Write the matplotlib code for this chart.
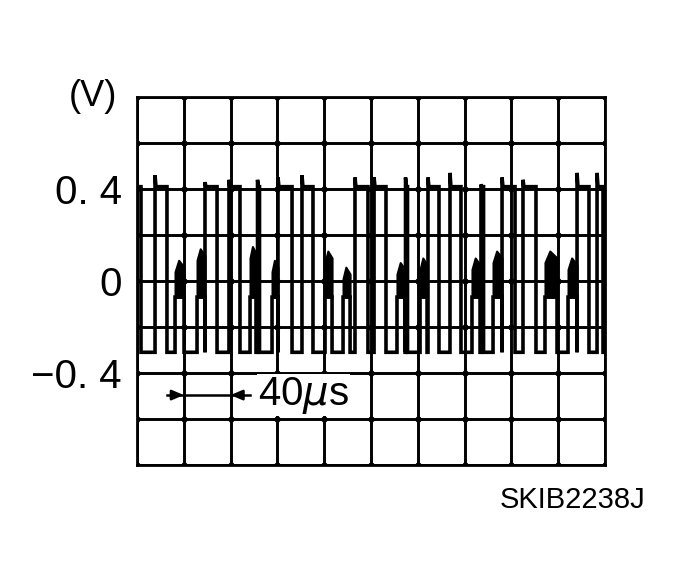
import numpy as np
import matplotlib
matplotlib.use("Agg")
import matplotlib.pyplot as plt

# levels (V) and time scale (1 div = 40 us)
HIGH = 0.41
LOW = -0.31
BLOB_BOTTOM = -0.07
US_PER_DIV = 40

# high pulses: start, end (us) and overshoot peak (V) at rising edge
high_start = [0.0, 15.4, 58.1, 78.6, 103.0, 120.5, 141.0, 186.3, 202.6, 229.5,
              248.7, 267.5, 294.0, 312.0, 329.9, 376.1, 393.2]
high_end = [3.4, 25.6, 68.4, 88.0, 104.7, 132.5, 150.4, 197.4, 212.8, 231.2,
            258.1, 276.9, 296.2, 323.1, 341.0, 386.3, 398.3]
high_peak = [0.42, 0.46, 0.43, 0.44, 0.44, 0.45, 0.46, 0.45, 0.45, 0.45,
             0.45, 0.47, 0.42, 0.45, 0.44, 0.47, 0.47]

# noisy mid-level bursts: start, end (us) and top (V)
blob_start = [32.5, 51.3, 96.6, 115.4, 160.7, 176.1, 222.2, 241.9, 286.3, 304.3, 348.7, 368.4]
blob_end = [40.2, 58.1, 101.7, 120.5, 166.7, 182.1, 229.1, 247.9, 293.2, 312.0, 359.0, 376.1]
blob_top = [0.09, 0.14, 0.15, 0.09, 0.13, 0.06, 0.08, 0.10, 0.10, 0.13, 0.13, 0.10]

y_ticks = [0.4, 0.0, -0.4]
y_labels = ["0. 4", "0", "\u22120. 4"]

plt.rcParams["font.family"] = ["Liberation Sans", "DejaVu Sans"]

fig = plt.figure(figsize=(6.81, 5.86), dpi=100)
ax = fig.add_axes([0.2012, 0.2065, 0.6872, 0.628])
ax.set_xlim(0, 10 * US_PER_DIV)
ax.set_ylim(-0.8, 0.8)

# oscilloscope grid
for k in range(11):
    ax.axvline(k * US_PER_DIV, color="black", lw=2.1, zorder=1)
for k in range(9):
    ax.axhline(-0.8 + 0.2 * k, color="black", lw=2.1, zorder=1)
gx, gy = np.meshgrid(np.arange(11) * US_PER_DIV, -0.8 + 0.2 * np.arange(9))
ax.plot(gx.ravel(), gy.ravel(), "o", color="black", ms=3.5, zorder=1)
for s in ax.spines.values():
    s.set_linewidth(2.0)

# build the trace: low everywhere, with high pulses and bursts
events = [(s, e, "H", p) for s, e, p in zip(high_start, high_end, high_peak)]
events += [(s, e, "B", t) for s, e, t in zip(blob_start, blob_end, blob_top)]
events.sort()
tx, ty = [], []
for s, e, kind, v in events:
    if kind == "H":
        tx += [s, s, s + 0.8, e, e]
        ty += [LOW, v, HIGH, HIGH, LOW]
    else:
        tx += [s, s, e, e]
        ty += [LOW, BLOB_BOTTOM, BLOB_BOTTOM, LOW]
        ax.fill_between([s, s + 0.4 * (e - s), e], BLOB_BOTTOM, [v - 0.05, v, v - 0.03],
                        color="black", lw=1.5, zorder=3)
tx.append(10 * US_PER_DIV)
ty.append(LOW)
if tx[0] > 0:
    tx.insert(0, 0)
    ty.insert(0, LOW)
ax.plot(tx, ty, color="black", lw=2.6, zorder=3, solid_joinstyle="miter")

# axis labels
ax.set_xticks([])
ax.set_yticks(y_ticks)
ax.set_yticklabels(y_labels, fontsize=29)
ax.tick_params(axis="y", length=0, pad=11)
ax.text(-0.043, 0.8, "(V)", transform=ax.get_yaxis_transform(), ha="right",
        va="center", fontsize=26)

# 40 us scale marker
ya = -0.496
ax.plot([0.64 * US_PER_DIV, 2.41 * US_PER_DIV], [ya, ya], color="black", lw=1.8, zorder=4)
ax.annotate("", xy=(1.0 * US_PER_DIV, ya), xytext=(0.75 * US_PER_DIV, ya),
            arrowprops=dict(arrowstyle="-|>,head_length=0.7,head_width=0.3",
                            color="black", lw=1.8, shrinkA=0, shrinkB=0))
ax.annotate("", xy=(2.0 * US_PER_DIV, ya), xytext=(2.25 * US_PER_DIV, ya),
            arrowprops=dict(arrowstyle="-|>,head_length=0.7,head_width=0.3",
                            color="black", lw=1.8, shrinkA=0, shrinkB=0))
ax.text(2.59 * US_PER_DIV, ya, "40$\\mu$s", ha="left", va="center", fontsize=29,
        zorder=5, bbox=dict(fc="white", ec="none", pad=0.5))

fig.text(645 / 681, 1 - 500 / 586, "SKIB2238J", ha="right", va="center",
         fontsize=21, family=["Liberation Sans", "DejaVu Sans"])

fig.savefig("out.png", dpi=100)
